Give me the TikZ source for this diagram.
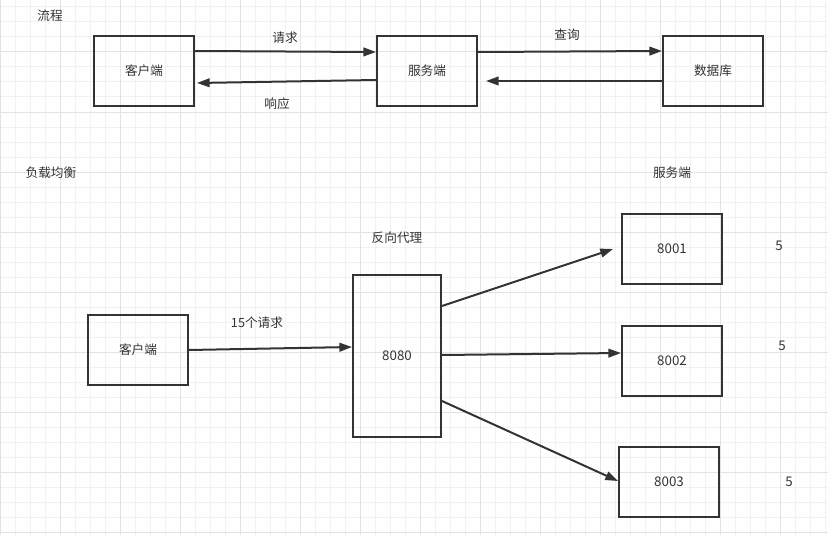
\documentclass[tikz,border=0pt]{standalone}
\usepackage{fontspec}
\setmainfont{Noto Sans CJK SC}
\usetikzlibrary{arrows.meta,calc}
\definecolor{gridminor}{HTML}{F1F1F1}
\definecolor{gridmajor}{HTML}{E3E3E3}
\definecolor{ink}{HTML}{333333}
\tikzset{
  box/.style={draw=ink, line width=1.5pt, minimum width=75pt, minimum height=52.5pt, inner sep=0pt, font=\fontsize{9.5}{11}\selectfont, text=ink},
  lbl/.style={inner sep=0pt, font=\fontsize{9.5}{11}\selectfont, text=ink},
  num/.style={font=\fontsize{10}{12}\selectfont},
  arr/.style={draw=ink, line width=1.5pt, -{Triangle[length=9.5pt,width=6.5pt]}}
}
\begin{document}
\begin{tikzpicture}[x=0.75pt,y=-0.75pt]
\useasboundingbox (0,0) rectangle (828,535);
\fill[white] (0,0) rectangle (828,535);
% grid
\foreach \i in {0,...,55} {\draw[gridminor, line width=0.75pt] (15*\i,0) -- (15*\i,535);}
\foreach \j in {0,...,35} {\draw[gridminor, line width=0.75pt] (0,7+15*\j) -- (828,7+15*\j);}
\foreach \i in {0,...,13} {\draw[gridmajor, line width=0.75pt] (60*\i,0) -- (60*\i,535);}
\foreach \j in {0,...,8} {\draw[gridmajor, line width=0.75pt] (0,52+60*\j) -- (828,52+60*\j);}

% top flow
\node[lbl] (t1) at (50,16) {流程};
\node[box] (c1) at (144,71) {客户端};
\node[box] (s1) at (427,71) {服务端};
\node[box] (d1) at (713,71) {数据库};
\draw[arr] ([shift={(0,-20)}]c1.east) -- ([shift={(0,-19)}]s1.west);
\draw[arr] ([shift={(0,9)}]s1.west) -- ([shift={(2,12)}]c1.east);
\draw[arr] ([shift={(0,-19)}]s1.east) -- ([shift={(0,-20)}]d1.west);
\draw[arr] ([shift={(0,10)}]d1.west) -- ([shift={(8,10)}]s1.east);
\node[lbl] (l1) at (285,38) {请求};
\node[lbl] (l2) at (277,104) {响应};
\node[lbl] (l3) at (567,35) {查询};

% load balancing
\node[lbl] (t2) at (51,173) {负载均衡};
\node[lbl] (t3) at (672,173) {服务端};
\node[lbl] (t4) at (397,238) {反向代理};
\node[box] (c2) at (138,350) {客户端};
\node[box, num, minimum width=66pt, minimum height=121.5pt] (p) at (397,356) {8080};
\node[box, num] (n1) at (672,249) {8001};
\node[box, num] (n2) at (672,361) {8002};
\node[box, num] (n3) at (669,482) {8003};
\node[lbl] (l4) at (257,323) {15个请求};
\draw[arr] (c2.east) -- ([shift={(0,-9)}]p.west);
\draw[arr] ([shift={(0,-50)}]p.east) -- ([shift={(-8,0)}]n1.west);
\draw[arr] ([shift={(0,-1)}]p.east) -- ([shift={(0,-8)}]n2.west);
\draw[arr] ([shift={(0,45)}]p.east) -- ([shift={(0,-1)}]n3.west);
\node[lbl, num] (f1) at (779,246) {5};
\node[lbl, num] (f2) at (782,346) {5};
\node[lbl, num] (f3) at (789,482) {5};
\end{tikzpicture}
\end{document}
